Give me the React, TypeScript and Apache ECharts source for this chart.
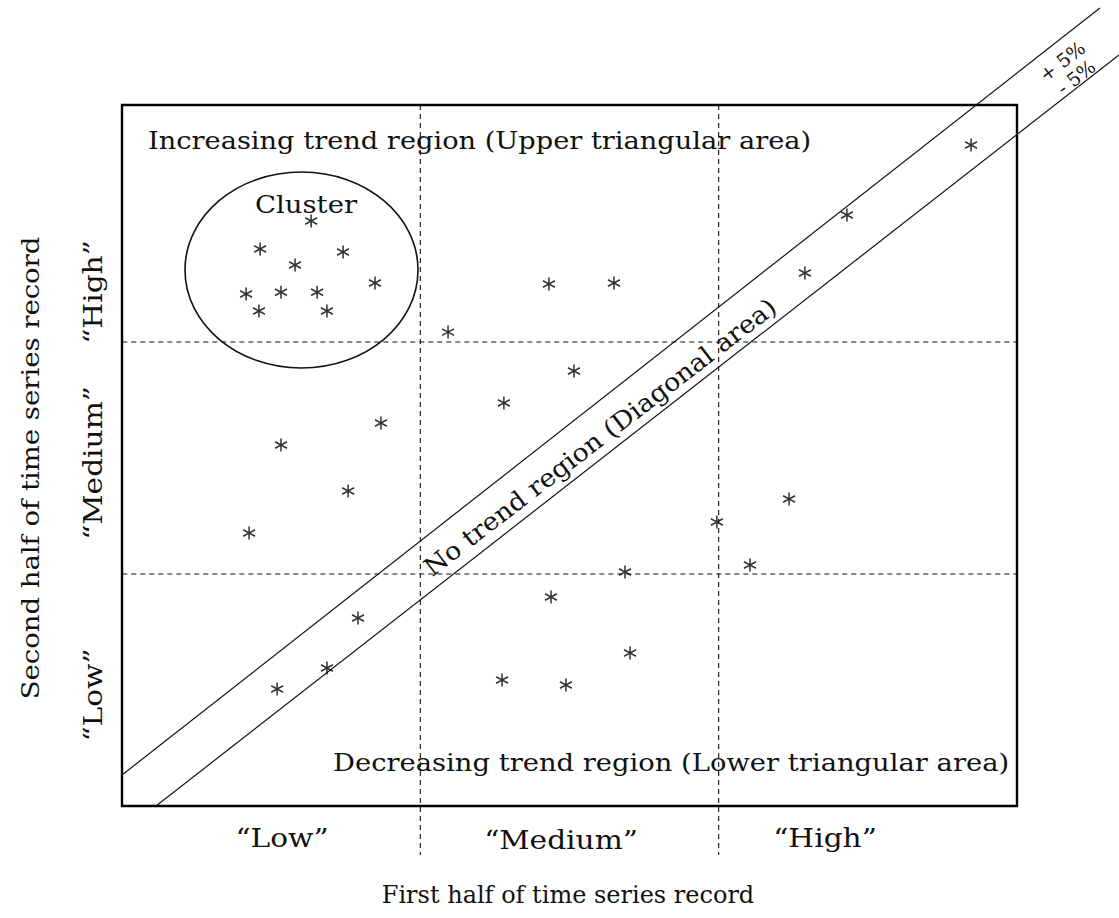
import React, { useEffect, useRef } from "react";
import * as echarts from "echarts";

// Level boundaries on both axes ("Low" | "Medium" | "High")
const xCuts = [1, 2];
const yCuts = [0.993, 1.986];

// Records: first-half level (x) and second-half level (y)
const firstHalf = [
  0.634, 0.463, 0.741, 0.58, 0.848, 0.416, 0.533, 0.654, 0.459, 0.687,
  1.093, 1.431, 1.649, 1.515, 1.28, 0.868, 0.533, 0.758, 0.426, 1.994,
  2.236, 2.105, 1.686, 1.438, 0.791, 1.703, 0.687, 0.52, 1.274, 1.488,
  2.43, 2.289, 2.846,
];
const secondHalf = [
  2.504, 2.384, 2.371, 2.315, 2.238, 2.191, 2.199, 2.199, 2.118, 2.118,
  2.028, 2.234, 2.238, 1.862, 1.725, 1.639, 1.545, 1.348, 1.168, 1.215,
  1.314, 1.031, 1.001, 0.894, 0.805, 0.655, 0.591, 0.501, 0.539, 0.518,
  2.529, 2.281, 2.829,
];

// +5% / -5% band lines of the diagonal
const upperBand = [
  [0, 0.1327],
  [3.278, 3.415],
];
const lowerBand = [
  [0.114, 0],
  [3.342, 3.214],
];

const xLevelLabels = ["\u201cLow\u201d", "\u201cMedium\u201d", "\u201cHigh\u201d"];
const yLevelLabels = ["\u201cLow\u201d", "\u201cMedium\u201d", "\u201cHigh\u201d"];

const FONT = "DejaVu Serif";
const INK = "#111";
const STAR =
  "path://M5,0 L5,10 M0.67,2.5 L9.33,7.5 M0.67,7.5 L9.33,2.5";

export default function App() {
  const ref = useRef<HTMLDivElement>(null);
  useEffect(() => {
    if (!ref.current) return;
    const chart = echarts.init(ref.current, null, { renderer: "svg" });
    const dashed = { color: "#111", width: 1.1, type: [5, 4] as any };
    const series: any[] = [];
    xCuts.forEach((c) =>
      series.push({
        type: "line",
        data: [
          [c, 3],
          [c, -0.21],
        ],
        symbol: "none",
        clip: false,
        lineStyle: dashed,
        silent: true,
      })
    );
    yCuts.forEach((c) =>
      series.push({
        type: "line",
        data: [
          [-0.18, c],
          [3, c],
        ],
        symbol: "none",
        clip: false,
        lineStyle: dashed,
        silent: true,
      })
    );
    series.push({
      type: "scatter",
      data: firstHalf.map((x, i) => [x, secondHalf[i]]),
      symbol: STAR,
      symbolSize: [12, 13],
      itemStyle: {
        color: "rgba(0,0,0,0)",
        borderColor: "#000",
        borderWidth: 1.6,
      },
      clip: false,
    });

    const text = (
      t: string,
      x: number,
      y: number,
      size: number,
      opts: any = {}
    ) => ({
      type: "text",
      x,
      y,
      rotation: opts.rotation || 0,
      scaleX: opts.sx || 1,
      style: {
        text: t,
        fontFamily: FONT,
        fontSize: size,
        fill: INK,
        align: opts.align || "center",
        verticalAlign: "middle",
      },
      silent: true,
    });
    const rot = (37.6 * Math.PI) / 180;
    const up = Math.PI / 2;
    const graphic: any[] = [
      {
        type: "ellipse",
        shape: { cx: 301.5, cy: 270, rx: 116.5, ry: 98 },
        style: { fill: "none", stroke: "#111", lineWidth: 1.6 },
        silent: true,
      },
      text("Increasing trend region (Upper triangular area)", 148, 140, 25, { align: "left", sx: 1.09 }),
      text("Cluster", 306, 204, 25, { sx: 1.1 }),
      text("Decreasing trend region (Lower triangular area)", 333, 762, 25, { align: "left", sx: 1.095 }),
      text("No trend region (Diagonal area)", 600, 437, 25, { rotation: rot, sx: 1.07 }),
      text("+ 5%", 1062, 61, 19, { rotation: rot }),
      text("- 5%", 1076, 77, 19, { rotation: rot }),
      text(xLevelLabels[0], 282, 838, 26, { sx: 1.14 }),
      text(xLevelLabels[1], 561, 840, 26, { sx: 1.14 }),
      text(xLevelLabels[2], 825, 838, 26, { sx: 1.14 }),
      text(yLevelLabels[2], 93, 292, 26, { rotation: up, sx: 1.14 }),
      text(yLevelLabels[1], 93, 463, 26, { rotation: up, sx: 1.14 }),
      text(yLevelLabels[0], 93, 695, 26, { rotation: up, sx: 1.14 }),
      text("First half of time series record", 568, 895, 24),
      text("Second half of time series record", 30, 468, 25, { rotation: up, sx: 1.1 }),
    ];

    const base: any = {
      animation: false,
      backgroundColor: "#fff",
      grid: {
        left: 122,
        top: 105,
        width: 895,
        height: 701,
        show: true,
        borderColor: "#000",
        borderWidth: 2.4,
        backgroundColor: "rgba(0,0,0,0)",
      },
      xAxis: {
        type: "value",
        min: 0,
        max: 3,
        axisLine: { show: false },
        axisTick: { show: false },
        axisLabel: { show: false },
        splitLine: { show: false },
      },
      yAxis: {
        type: "value",
        min: 0,
        max: 3,
        axisLine: { show: false },
        axisTick: { show: false },
        axisLabel: { show: false },
        splitLine: { show: false },
      },
      series,
      graphic,
    };
    chart.setOption(base);

    // Diagonal band lines placed through the chart's own axis scales
    const bandLines = [upperBand, lowerBand].map((b) => {
      const pts = b.map((p) =>
        chart.convertToPixel({ gridIndex: 0 }, p as any)
      ) as number[][];
      return {
        type: "line",
        shape: { x1: pts[0][0], y1: pts[0][1], x2: pts[1][0], y2: pts[1][1] },
        style: { stroke: "#111", lineWidth: 1.2 },
        silent: true,
      };
    });
    chart.setOption({ graphic: [...graphic, ...bandLines] });
    return () => chart.dispose();
  }, []);
  return (
    <div
      ref={ref}
      style={{ position: "fixed", left: 0, top: 0, width: 1119, height: 918 }}
    />
  );
}
